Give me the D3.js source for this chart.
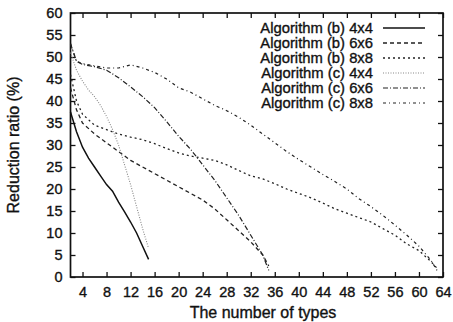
<!DOCTYPE html>
<html>
<head>
<meta charset="utf-8">
<script src="https://cdn.jsdelivr.net/npm/d3@7"></script>
<style>
  body { margin: 0; background: #fff; }
  text { font-family: "Liberation Sans", Arial, sans-serif; fill: #111; stroke: #111; stroke-width: 0.35px; }
</style>
</head>
<body>
<script>
// values
const b4x4_x = [2, 3, 4, 5, 6, 7, 8, 9, 10, 11, 12, 13, 14, 15];
const b4x4_y = [37.5, 33, 29.5, 27, 25, 23, 21, 19.5, 17, 14.8, 12.5, 10, 7, 4];

const b6x6_x = [2, 3, 4, 6, 8, 10, 12, 14, 16, 18, 20, 22, 24, 26, 28, 30, 32, 34, 35];
const b6x6_y = [43, 38, 35, 32.5, 30.5, 28.5, 26.5, 25, 23.5, 22, 20.5, 19, 17.5, 15.5, 13, 10.5, 8, 5, 2.5];

const b8x8_x = [2, 3, 4, 6, 8, 10, 12, 14, 16, 18, 20, 22, 24, 26, 28, 30, 32, 34, 36, 38, 40, 42, 44, 46, 48, 50, 52, 54, 56, 58, 60, 62, 63];
const b8x8_y = [46, 40, 37, 34.5, 33.5, 32.5, 31.8, 31.2, 30.3, 29.2, 28.2, 27.5, 27, 26.5, 25.5, 24.2, 23, 22.3, 21.2, 20, 19, 18, 16.8, 15.5, 14.5, 13.5, 12.5, 11, 9.5, 7.5, 6, 3.5, 2];

const c4x4_x = [2, 3, 4, 5, 6, 7, 8, 9, 10, 11, 12, 13, 14, 15];
const c4x4_y = [51, 47, 44.5, 42.5, 41, 39, 36.5, 33.5, 30, 25.5, 21, 16, 11, 6.5];

const c6x6_x = [2, 3, 4, 6, 8, 10, 12, 14, 16, 18, 20, 22, 24, 26, 28, 30, 32, 34, 35];
const c6x6_y = [53, 49, 48.3, 47.8, 47, 45.3, 43.2, 41, 38.5, 35.3, 32, 29, 25.5, 22, 18, 14, 9.5, 5, 1.5];

const c8x8_x = [2, 3, 4, 6, 8, 10, 12, 14, 16, 18, 20, 22, 24, 26, 28, 30, 32, 34, 36, 38, 40, 42, 44, 46, 48, 50, 52, 54, 56, 58, 60, 62, 63];
const c8x8_y = [53, 49, 48.5, 48, 47.5, 47.5, 48.2, 47.5, 46.5, 45, 43, 42, 40.5, 39, 37.8, 36.3, 34.5, 32.5, 30.5, 28.5, 26.7, 25, 23.3, 21.7, 20, 17.8, 16, 14, 11.8, 9.5, 7, 3.8, 1.5];

const seriesNames = [
  "Algorithm (b) 4x4", "Algorithm (b) 6x6", "Algorithm (b) 8x8",
  "Algorithm (c) 4x4", "Algorithm (c) 6x6", "Algorithm (c) 8x8"
];
const xTicks = [4, 8, 12, 16, 20, 24, 28, 32, 36, 40, 44, 48, 52, 56, 60, 64];
const yTicks = [0, 5, 10, 15, 20, 25, 30, 35, 40, 45, 50, 55, 60];

const series = [
  [b4x4_x, b4x4_y], [b6x6_x, b6x6_y], [b8x8_x, b8x8_y],
  [c4x4_x, c4x4_y], [c6x6_x, c6x6_y], [c8x8_x, c8x8_y]
].map(([xs, ys], i) => ({ name: seriesNames[i], pts: xs.map((x, j) => ({ x, y: ys[j] })) }));

// line styles (gnuplot-ish)
const styles = [
  { dash: null, color: "#111", w: 1.5 },
  { dash: "4,3", color: "#222", w: 1.3 },
  { dash: "2,3", color: "#222", w: 1.3 },
  { dash: "1,1.5", color: "#888", w: 1.1 },
  { dash: "5,2,1,2", color: "#222", w: 1.2 },
  { dash: "3,3,1,3", color: "#222", w: 1.2 }
];

const W = 453, H = 322;
const margin = { top: 13, right: 10, bottom: 45, left: 70.5 };
const width = W - margin.left - margin.right;
const height = H - margin.top - margin.bottom;

const svg = d3.select("body").append("svg")
  .attr("width", W)
  .attr("height", H);

const g = svg.append("g").attr("transform", `translate(${margin.left},${margin.top})`);

const xscale = d3.scaleLinear().domain([2, 64]).range([0, width]);
const yscale = d3.scaleLinear().domain([0, 60]).range([height, 0]);

// axes, ticks pointing inwards
const g_x = g.append("g").attr("transform", `translate(0,${height})`)
  .call(d3.axisBottom(xscale).tickValues(xTicks).tickSizeInner(-5).tickSizeOuter(0).tickPadding(10));
const g_xt = g.append("g")
  .call(d3.axisTop(xscale).tickValues(xTicks).tickSizeInner(-5).tickSizeOuter(0).tickFormat(""));
const g_y = g.append("g")
  .call(d3.axisLeft(yscale).tickValues(yTicks).tickSizeInner(-5).tickSizeOuter(0).tickPadding(8));
const g_yr = g.append("g").attr("transform", `translate(${width},0)`)
  .call(d3.axisRight(yscale).tickValues(yTicks).tickSizeInner(-5).tickSizeOuter(0).tickFormat(""));

[g_x, g_xt, g_y, g_yr].forEach(a => {
  a.select(".domain").remove();
  a.selectAll(".tick line").attr("stroke", "#111").attr("stroke-width", 1.3);
  a.selectAll("text").attr("font-size", 14.5).attr("font-family", "Liberation Sans, Arial, sans-serif").attr("fill", "#111");
});

// frame
g.append("rect")
  .attr("width", width).attr("height", height)
  .attr("fill", "none").attr("stroke", "#111").attr("stroke-width", 1.7);

const line = d3.line().x(d => xscale(d.x)).y(d => yscale(d.y));

g.selectAll(".series").data(series).enter().append("path")
  .attr("d", d => line(d.pts))
  .attr("fill", "none")
  .attr("stroke", (d, i) => styles[i].color)
  .attr("stroke-width", (d, i) => styles[i].w)
  .attr("stroke-dasharray", (d, i) => styles[i].dash);

// legend
const leg = svg.append("g");
series.forEach((s, i) => {
  const y = 28 + i * 15;
  leg.append("text")
    .attr("x", 373).attr("y", y).attr("dy", "0.35em")
    .attr("text-anchor", "end").attr("font-size", 14.8)
    .text(s.name);
  leg.append("line")
    .attr("x1", 383).attr("x2", 425).attr("y1", y).attr("y2", y)
    .attr("stroke", styles[i].color)
    .attr("stroke-width", styles[i].w)
    .attr("stroke-dasharray", styles[i].dash);
});

// axis titles
svg.append("text")
  .attr("x", 263).attr("y", 318)
  .attr("text-anchor", "middle").attr("font-size", 16)
  .text("The number of types");

svg.append("text")
  .attr("transform", `translate(19,${margin.top + height / 2}) rotate(-90)`)
  .attr("text-anchor", "middle").attr("font-size", 16)
  .text("Reduction ratio (%)");
</script>
</body>
</html>
